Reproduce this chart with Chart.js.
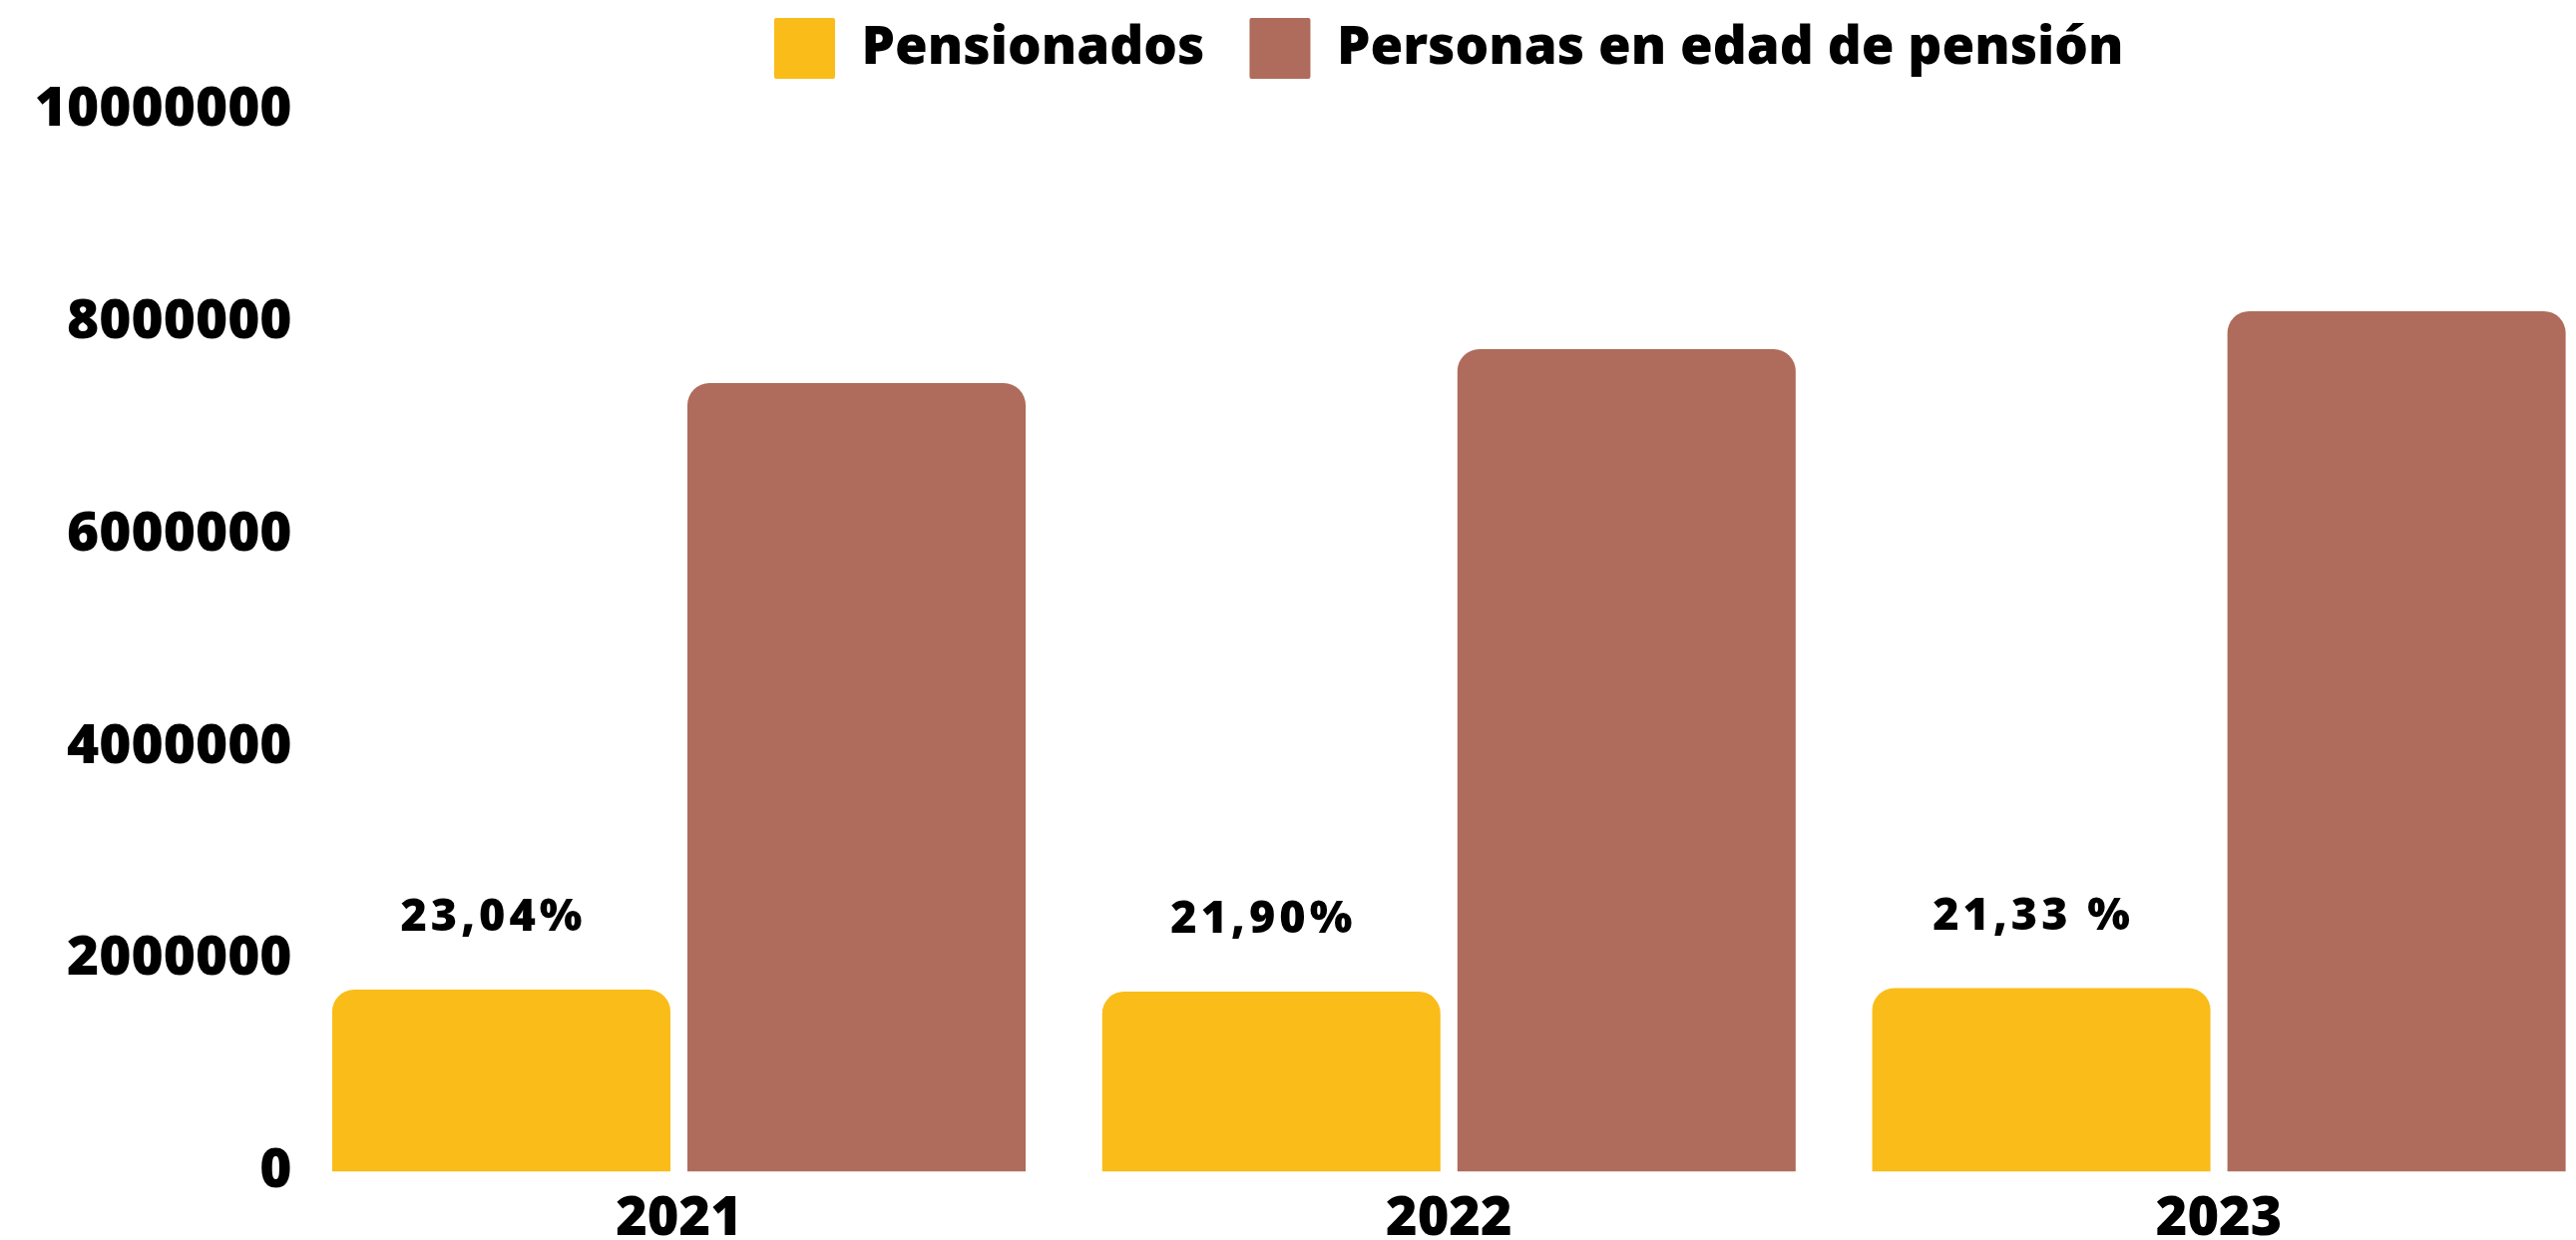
<!DOCTYPE html>
<html>
<head>
<meta charset="utf-8">
<script src="https://cdn.jsdelivr.net/npm/chart.js@4"></script>
<style>
  html, body { margin: 0; padding: 0; background: #ffffff; overflow: hidden; width: 2582px; height: 1243px; }
  #wrap { position: absolute; left: 0; top: -27px; }
  canvas { display: block; }
</style>
</head>
<body>
<div id="wrap"><canvas id="c" width="2610" height="1270"></canvas></div>
<script>
const years = ['2021', '2022', '2023'];
const pensionados = [1715000, 1697000, 1729000];
const personasEdadPension = [7429000, 7749000, 8107000];
const porcentajes = ['23,04%', '21,90%', '21,33 %'];
const seriesNames = ['Pensionados', 'Personas en edad de pensión'];
const yMin = 0;
const yMax = 10000000;
const yStep = 2000000;

const FONT = "'Open Sans', 'Noto Sans', sans-serif";
const W = 800;
const YELLOW = '#F9BC19';
const BROWN = '#AF6B5B';
const LEGEND_H = 137.5;

const legendHeightPlugin = {
  id: 'legendHeight',
  afterInit(chart) {
    const lg = chart.legend;
    if (lg && !lg.__patched) {
      const f = lg.fit.bind(lg);
      lg.fit = function () { f(); this.height = LEGEND_H; };
      lg.__patched = true;
    }
  }
};

const pctPlugin = {
  id: 'pctLabels',
  afterDatasetsDraw(chart) {
    const ctx = chart.ctx;
    const meta = chart.getDatasetMeta(0);
    ctx.save();
    ctx.font = W + " 45px " + FONT;
    ctx.fillStyle = '#000000';
    ctx.textAlign = 'center';
    ctx.textBaseline = 'alphabetic';
    try { ctx.letterSpacing = '4px'; } catch (e) {}
    meta.data.forEach((bar, i) => {
      ctx.fillText(porcentajes[i], bar.x - 8, bar.y - 59);
    });
    ctx.restore();
  }
};

Chart.defaults.font.family = FONT;
Chart.defaults.font.weight = W;
Chart.defaults.color = '#000000';

new Chart(document.getElementById('c'), {
  type: 'bar',
  data: {
    labels: years,
    datasets: [
      {
        label: seriesNames[0],
        data: pensionados,
        backgroundColor: YELLOW,
        borderRadius: 22,
        borderSkipped: 'start',
        categoryPercentage: 0.9226,
        barPercentage: 0.9522
      },
      {
        label: seriesNames[1],
        data: personasEdadPension,
        backgroundColor: BROWN,
        borderRadius: 22,
        borderSkipped: 'start',
        categoryPercentage: 0.9226,
        barPercentage: 0.9522
      }
    ]
  },
  options: {
    responsive: false,
    maintainAspectRatio: false,
    devicePixelRatio: 1,
    animation: false,
    layout: { padding: { left: 0, right: 0, top: 0, bottom: 0 } },
    plugins: {
      tooltip: { enabled: false },
      legend: {
        position: 'top',
        align: 'center',
        fullSize: false,
        labels: {
          boxWidth: 61,
          boxHeight: 61,
          padding: 45,
          useBorderRadius: true,
          borderRadius: 2,
          color: '#000000',
          font: { size: 53, weight: W, family: FONT }
        }
      }
    },
    scales: {
      x: {
        grid: { display: false, drawTicks: false },
        border: { display: false },
        ticks: {
          padding: 16,
          color: '#000000',
          font: { size: 54, weight: W, family: FONT }
        },
        afterFit(scale) { scale.height = 68.5; }
      },
      y: {
        min: yMin,
        max: yMax,
        grid: { display: false, drawTicks: false },
        border: { display: false },
        ticks: {
          stepSize: yStep,
          padding: 2,
          color: '#000000',
          font: { size: 55, weight: W, family: FONT },
          callback: (v) => String(v)
        },
        afterFit(scale) { scale.width = 294.6; }
      }
    }
  },
  plugins: [legendHeightPlugin, pctPlugin]
});
</script>
</body>
</html>
